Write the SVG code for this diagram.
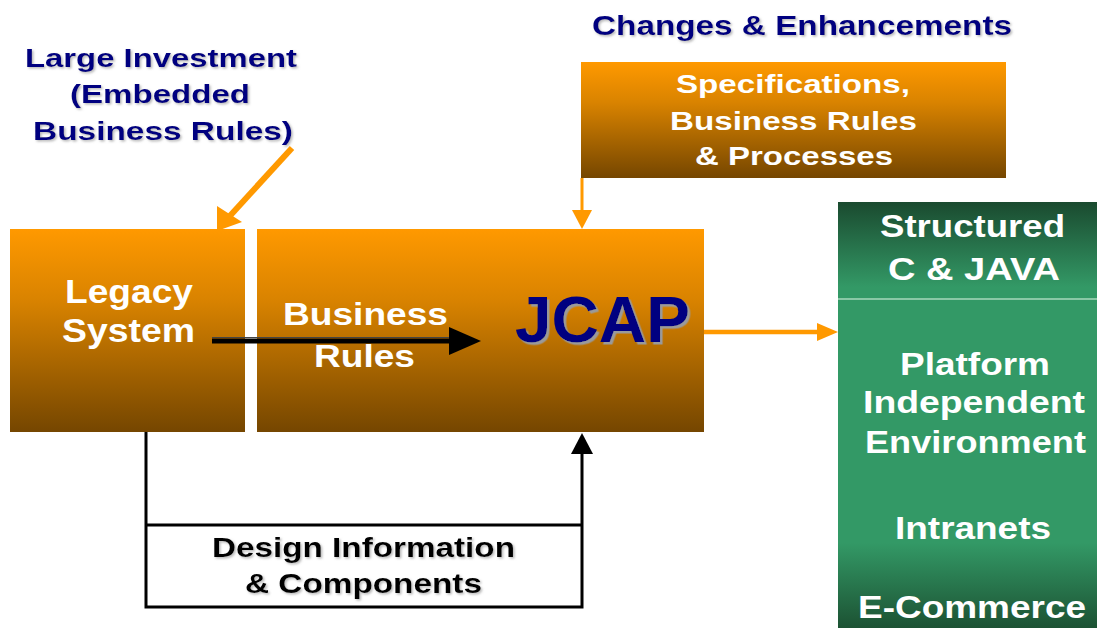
<svg xmlns="http://www.w3.org/2000/svg" width="1097" height="628" viewBox="0 0 1097 628">
<defs>
<linearGradient id="gOrange" x1="0" y1="0" x2="0" y2="1">
<stop offset="0" stop-color="#ff9900"/>
<stop offset="0.35" stop-color="#d98300"/>
<stop offset="1" stop-color="#754600"/>
</linearGradient>
<linearGradient id="gGreen" gradientUnits="userSpaceOnUse" x1="0" y1="202" x2="0" y2="628">
<stop offset="0" stop-color="#1a4a2f"/>
<stop offset="0.2" stop-color="#339966"/>
<stop offset="0.8" stop-color="#339966"/>
<stop offset="1" stop-color="#1c5233"/>
</linearGradient>
<filter id="shJ" x="-10%" y="-10%" width="130%" height="130%">
<feDropShadow dx="2.5" dy="2.5" stdDeviation="0.4" flood-color="#9a9a9a" flood-opacity="1"/>
</filter>
<filter id="shS" x="-10%" y="-10%" width="130%" height="130%">
<feDropShadow dx="1.5" dy="1.5" stdDeviation="0.8" flood-color="#888" flood-opacity="0.6"/>
</filter>
<marker id="mOrange" viewBox="0 0 10 10" refX="10" refY="5" markerWidth="5" markerHeight="5" orient="auto" markerUnits="strokeWidth">
<path d="M0,0 L10,5 L0,10 z" fill="#ff9900"/>
</marker>
</defs>
<style>
text{font-family:"Liberation Sans",Arial,sans-serif;font-weight:bold;text-anchor:middle}
.w{fill:#ffffff}
.n{fill:#000080}
.k{fill:#000000}
.oline{stroke:#ff9900;fill:none}
.kline{stroke:#000000;fill:none;stroke-width:3}
</style>

<g id="large-investment" filter="url(#shS)">
<text class="n" x="161" y="67" font-size="26" textLength="272" lengthAdjust="spacingAndGlyphs">Large Investment</text>
<text class="n" x="160" y="103" font-size="26" textLength="180" lengthAdjust="spacingAndGlyphs">(Embedded</text>
<text class="n" x="163" y="140" font-size="26" textLength="260" lengthAdjust="spacingAndGlyphs">Business Rules)</text>
</g>

<g id="changes" filter="url(#shS)">
<text class="n" x="802" y="35" font-size="27" textLength="420" lengthAdjust="spacingAndGlyphs">Changes &amp; Enhancements</text>
</g>

<g id="spec">
<rect x="581" y="62" width="425" height="116" fill="url(#gOrange)"/>
<text class="w" x="793" y="93" font-size="25" textLength="234" lengthAdjust="spacingAndGlyphs">Specifications,</text>
<text class="w" x="793.5" y="130" font-size="25" textLength="247" lengthAdjust="spacingAndGlyphs">Business Rules</text>
<text class="w" x="794" y="165" font-size="25" textLength="198" lengthAdjust="spacingAndGlyphs">&amp; Processes</text>
</g>

<g id="legacy">
<rect x="10" y="229" width="235" height="203" fill="url(#gOrange)"/>
<text class="w" x="129" y="303" font-size="34" textLength="128" lengthAdjust="spacingAndGlyphs">Legacy</text>
<text class="w" x="128.5" y="342" font-size="34" textLength="133" lengthAdjust="spacingAndGlyphs">System</text>
</g>

<g id="jcap">
<rect x="257" y="229" width="447" height="203" fill="url(#gOrange)"/>
<text class="w" x="365.5" y="325" font-size="32" textLength="165" lengthAdjust="spacingAndGlyphs">Business</text>
<text class="w" x="364.5" y="367" font-size="32" textLength="101" lengthAdjust="spacingAndGlyphs">Rules</text>
<text class="n" x="602.5" y="342" font-size="65" textLength="175" lengthAdjust="spacingAndGlyphs" filter="url(#shJ)">JCAP</text>
</g>

<g id="platform">
<rect x="838" y="202" width="259" height="426" fill="url(#gGreen)"/>
<line x1="838" y1="299" x2="1097" y2="299" stroke="#a8d8bc" stroke-width="1.5"/>
<text class="w" x="972.5" y="237" font-size="31" textLength="185" lengthAdjust="spacingAndGlyphs">Structured</text>
<text class="w" x="974" y="280" font-size="31" textLength="172" lengthAdjust="spacingAndGlyphs">C &amp; JAVA</text>
<text class="w" x="975" y="375" font-size="31" textLength="150" lengthAdjust="spacingAndGlyphs">Platform</text>
<text class="w" x="974" y="413" font-size="31" textLength="222" lengthAdjust="spacingAndGlyphs">Independent</text>
<text class="w" x="975.5" y="453" font-size="31" textLength="221" lengthAdjust="spacingAndGlyphs">Environment</text>
<text class="w" x="973" y="539" font-size="31" textLength="156" lengthAdjust="spacingAndGlyphs">Intranets</text>
<text class="w" x="972" y="618" font-size="31" textLength="228" lengthAdjust="spacingAndGlyphs">E-Commerce</text>
</g>

<g id="connectors">
<!-- Large investment to legacy -->
<line class="oline" x1="292" y1="148" x2="228" y2="218" stroke-width="6"/>
<polygon points="217,231 217,206 242,222" fill="#ff9900"/>
<!-- spec to jcap -->
<line class="oline" x1="582" y1="178" x2="582" y2="212" stroke-width="3"/>
<polygon points="572,210 592,210 582,229" fill="#ff9900"/>
<!-- jcap to platform -->
<line class="oline" x1="704" y1="332" x2="819" y2="332" stroke-width="4.5"/>
<polygon points="817,323 838,332 817,341" fill="#ff9900"/>
<!-- legacy to business rules -->
<line x1="212" y1="341" x2="452" y2="341" stroke="#000000" stroke-width="5"/>
<line x1="212" y1="337.5" x2="452" y2="337.5" stroke="#444" stroke-width="1"/>
<polygon points="449,327 481,341 449,355" fill="#000000"/>
<!-- design information loop -->
<polyline class="kline" points="146,432 146,607 582,607 582,452"/>
<line class="kline" x1="146" y1="525" x2="582" y2="525"/>
<polygon points="571,454 593,454 582,433" fill="#000000"/>
</g>

<g id="design-info" filter="url(#shS)">
<text class="k" x="363.5" y="557" font-size="27" textLength="303" lengthAdjust="spacingAndGlyphs">Design Information</text>
<text class="k" x="363.5" y="593" font-size="27" textLength="237" lengthAdjust="spacingAndGlyphs">&amp; Components</text>
</g>
</svg>
